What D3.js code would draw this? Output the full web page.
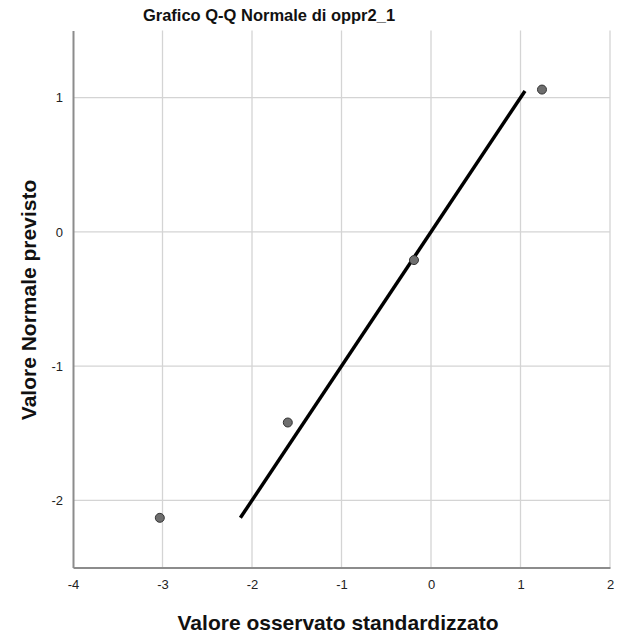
<!DOCTYPE html>
<html>
<head>
<meta charset="utf-8">
<script src="https://cdn.jsdelivr.net/npm/d3@7"></script>
<style>
  html, body { margin: 0; padding: 0; background: #fff; }
  svg { display: block; }
</style>
</head>
<body>
<svg id="chart" width="620" height="639"></svg>
<script>
// Observed standardized values and their expected normal values
const observed = [-3.03, -1.60, -0.19, 1.24];
const expected = [-2.13, -1.42, -0.21, 1.06];
// Reference line (y = x) endpoints
const lineX = [-2.13, 1.05];
const xTicks = [-4, -3, -2, -1, 0, 1, 2];
const yTicks = [-2, -1, 0, 1];

const svg = d3.select("#chart");
const font = "'Liberation Sans', Arial, sans-serif";

const x = d3.scaleLinear().domain([-4, 2]).range([73, 610]);
const y = d3.scaleLinear().domain([-2.5, 1.5]).range([567.5, 30.5]);

// Grid
svg.append("g").selectAll("line").data(xTicks.slice(1)).join("line")
  .attr("x1", d => x(d)).attr("x2", d => x(d))
  .attr("y1", y(-2.5)).attr("y2", y(1.5))
  .attr("stroke", "#d4d4d4").attr("stroke-width", 1.3);
svg.append("g").selectAll("line").data(yTicks).join("line")
  .attr("x1", x(-4)).attr("x2", x(2))
  .attr("y1", d => y(d)).attr("y2", d => y(d))
  .attr("stroke", "#d4d4d4").attr("stroke-width", 1.3);

// Axes (labels use a plain hyphen for negatives)
const fmt = d => String(d);
const xAxis = svg.append("g").attr("transform", `translate(0,${y(-2.5)})`)
  .call(d3.axisBottom(x).tickValues(xTicks).tickSize(0).tickPadding(12).tickFormat(fmt));
const yAxis = svg.append("g").attr("transform", `translate(${x(-4)},0)`)
  .call(d3.axisLeft(y).tickValues(yTicks).tickSize(0).tickPadding(10).tickFormat(fmt));
[xAxis, yAxis].forEach(a => {
  a.select(".domain").attr("stroke", "#8c8c8c").attr("stroke-width", 2);
  a.selectAll("text").attr("font-family", font).attr("font-size", 13).attr("fill", "#222");
});

// Reference line
svg.append("line")
  .attr("x1", x(lineX[0])).attr("y1", y(lineX[0]))
  .attr("x2", x(lineX[1])).attr("y2", y(lineX[1]))
  .attr("stroke", "#000").attr("stroke-width", 3.5);

// Points
svg.append("g").selectAll("circle").data(observed).join("circle")
  .attr("cx", d => x(d)).attr("cy", (d, i) => y(expected[i]))
  .attr("r", 4.5)
  .attr("fill", "#6e6e6e").attr("stroke", "#333").attr("stroke-width", 1);

// Titles
svg.append("text").attr("x", 269).attr("y", 21).attr("text-anchor", "middle")
  .attr("font-family", font).attr("font-size", 16.5).attr("font-weight", "bold").attr("fill", "#111")
  .text("Grafico Q-Q Normale di oppr2_1");
svg.append("text").attr("x", 338).attr("y", 630).attr("text-anchor", "middle")
  .attr("font-family", font).attr("font-size", 21).attr("font-weight", "bold").attr("fill", "#111")
  .text("Valore osservato standardizzato");
svg.append("text").attr("transform", "translate(36,300) rotate(-90)").attr("text-anchor", "middle")
  .attr("font-family", font).attr("font-size", 21).attr("font-weight", "bold").attr("fill", "#111")
  .text("Valore Normale previsto");
</script>
</body>
</html>
